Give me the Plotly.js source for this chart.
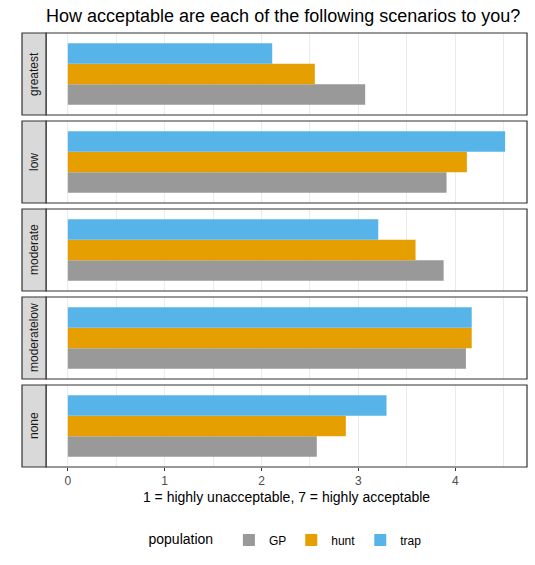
<!DOCTYPE html>
<html>
<head>
<meta charset="utf-8">
<script src="https://cdn.plot.ly/plotly-3.0.1.min.js"></script>
<style>html,body{margin:0;padding:0;background:#fff;}#chart{width:535px;height:565px;}</style>
</head>
<body>
<div id="chart"></div>
<script>
const scenarios = ['greatest', 'low', 'moderate', 'moderatelow', 'none'];
const populations = ['GP', 'hunt', 'trap'];
const gpValues = [3.07, 3.91, 3.88, 4.11, 2.57];
const huntValues = [2.55, 4.12, 3.59, 4.17, 2.87];
const trapValues = [2.11, 4.515, 3.205, 4.17, 3.29];
const colors = {GP: '#999999', hunt: '#E69F00', trap: '#56B4E9'};
const valuesBy = {GP: gpValues, hunt: huntValues, trap: trapValues};

const W = 535, H = 565;
const mL = 46, mR = 8, mT = 33, mB = 98;
const plotW = W - mL - mR, plotH = H - mT - mB;
const panelH = 82, gap = 6;
const stripW = 24;

const maxV = Math.max(...gpValues, ...huntValues, ...trapValues);
const xRange = [-0.05 * maxV, maxV * 1.05];

const traces = [];
const layout = {
  width: W, height: H,
  margin: {l: mL, r: mR, t: mT, b: mB},
  paper_bgcolor: '#ffffff', plot_bgcolor: '#ffffff',
  font: {family: 'Liberation Sans, Arial, sans-serif', color: '#000000'},
  barmode: 'group', bargap: 0.1, bargroupgap: 0,
  showlegend: true,
  title: {text: 'How acceptable are each of the following scenarios to you?',
          x: mL / W, xanchor: 'left', y: 1 - 16 / H, yanchor: 'middle',
          font: {size: 18, color: '#000000'}},
  legend: {orientation: 'h', x: 0.5, xanchor: 'center', y: 0, yanchor: 'middle',
           title: {text: 'population  ', side: 'left', font: {size: 14, color: '#000000'}},
           font: {size: 12, color: '#000000'}, itemwidth: 30, traceorder: 'normal'},
  shapes: [], annotations: []
};
layout.legend.y = -(540 - (mT + plotH)) / plotH;

scenarios.forEach((sc, i) => {
  const top = mT + i * (panelH + gap);
  const bottom = top + panelH;
  const d0 = (mT + plotH - bottom) / plotH;
  const d1 = (mT + plotH - top) / plotH;
  const xa = i === 0 ? 'xaxis' : 'xaxis' + (i + 1);
  const ya = i === 0 ? 'yaxis' : 'yaxis' + (i + 1);
  const xr = i === 0 ? 'x' : 'x' + (i + 1);
  const yr = i === 0 ? 'y' : 'y' + (i + 1);
  const isLast = i === scenarios.length - 1;
  layout[xa] = {
    range: xRange, anchor: yr, domain: [0, 1],
    tickvals: [0, 1, 2, 3, 4], showgrid: true, gridcolor: '#EBEBEB', gridwidth: 1,
    minor: {tickvals: [0.5, 1.5, 2.5, 3.5, 4.5], showgrid: true, gridcolor: '#EBEBEB', gridwidth: 1, ticks: ''},
    zeroline: false, showline: false,
    showticklabels: isLast, ticks: isLast ? 'outside' : '', ticklen: 3, tickcolor: '#333333',
    tickfont: {size: 12, color: '#4D4D4D'}, fixedrange: true
  };
  if (i > 0) layout[xa].matches = 'x';
  if (isLast) {
    layout[xa].title = {text: '1 = highly unacceptable, 7 = highly acceptable', font: {size: 14, color: '#000000'}, standoff: 4};
  }
  layout[ya] = {
    domain: [d0, d1], anchor: xr, type: 'category', range: [-0.6, 0.6],
    showticklabels: false, ticks: '', showgrid: false, zeroline: false, showline: false, fixedrange: true
  };
  populations.forEach(p => {
    traces.push({
      type: 'bar', orientation: 'h', name: p,
      x: [valuesBy[p][i]], y: [sc],
      xaxis: xr, yaxis: yr,
      marker: {color: colors[p], line: {width: 0}},
      legendgroup: p, showlegend: i === 0, hoverinfo: 'x+name'
    });
  });
  layout.shapes.push({type: 'rect', xref: 'paper', yref: 'paper', x0: 0, x1: 1, y0: d0, y1: d1,
                      line: {color: '#333333', width: 1.2}, fillcolor: 'rgba(0,0,0,0)', layer: 'above'});
  layout.shapes.push({type: 'rect', xref: 'paper', yref: 'paper', x0: -stripW / plotW, x1: 0, y0: d0, y1: d1,
                      line: {color: '#333333', width: 1.2}, fillcolor: '#D9D9D9', layer: 'above'});
  layout.annotations.push({text: sc, xref: 'paper', yref: 'paper', x: -stripW / 2 / plotW, y: (d0 + d1) / 2,
                           xanchor: 'center', yanchor: 'middle', textangle: -90, showarrow: false,
                           font: {size: 12, color: '#1A1A1A'}});
});

Plotly.newPlot('chart', traces, layout, {displayModeBar: false, staticPlot: true});
</script>
</body>
</html>
